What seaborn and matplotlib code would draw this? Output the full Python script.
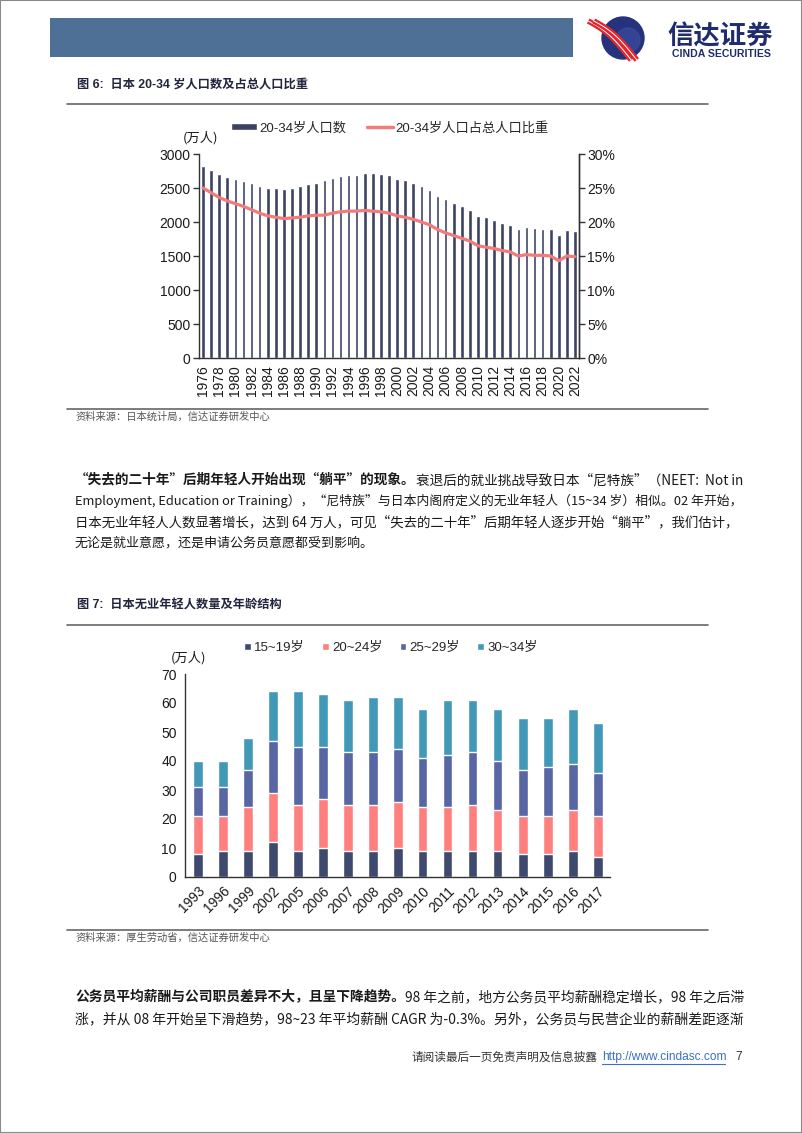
import numpy as np
import matplotlib
matplotlib.use("Agg")
import matplotlib.pyplot as plt
import seaborn as sns
from matplotlib.patches import Rectangle, Circle, Patch
from matplotlib.lines import Line2D
from matplotlib.ticker import FuncFormatter

# ---------- data: figure 6 ----------
years1 = [str(y) for y in range(1976, 2023)]
pop_20_34 = [2830, 2770, 2710, 2655, 2635, 2610, 2570, 2535, 2500, 2495,
             2485, 2505, 2530, 2564, 2569, 2613, 2647, 2677, 2696, 2696,
             2720, 2716, 2711, 2691, 2632, 2623, 2579, 2530, 2476, 2378,
             2338, 2285, 2236, 2182, 2089, 2069, 2025, 1991, 1961, 1902,
             1922, 1907, 1902, 1893, 1804, 1878, 1868]
share_20_34 = [25.0, 24.3, 23.6, 23.1, 22.7, 22.3, 21.8, 21.3, 20.9, 20.7,
               20.5, 20.6, 20.7, 20.9, 21.0, 21.0, 21.3, 21.5, 21.6, 21.6,
               21.7, 21.6, 21.5, 21.3, 20.9, 20.7, 20.4, 20.0, 19.6, 18.9,
               18.4, 18.0, 17.6, 17.2, 16.5, 16.3, 16.1, 15.8, 15.6, 15.0,
               15.2, 15.1, 15.1, 15.0, 14.3, 15.0, 14.9]

# ---------- data: figure 7 ----------
years2 = ['1993', '1996', '1999', '2002', '2005', '2006', '2007', '2008', '2009',
          '2010', '2011', '2012', '2013', '2014', '2015', '2016', '2017']
age_15_19 = [8, 9, 9, 12, 9, 10, 9, 9, 10, 9, 9, 9, 9, 8, 8, 9, 7]
age_20_24 = [13, 12, 15, 17, 16, 17, 16, 16, 16, 15, 15, 16, 14, 13, 13, 14, 14]
age_25_29 = [10, 10, 13, 18, 20, 18, 18, 18, 18, 17, 18, 18, 17, 16, 17, 16, 15]
age_30_34 = [9, 9, 11, 17, 19, 18, 18, 19, 18, 17, 19, 18, 18, 18, 17, 19, 17]
age_labels = ['15~19岁', '20~24岁', '25~29岁', '30~34岁']
age_colors = ['#3d4a6d', '#ff7f7f', '#5866a3', '#4199b7']

BAR_C = '#3b4262'
LINE_C = '#f27c7c'

sns.set_theme(style='white')
MIX = ['Liberation Sans', 'Noto Sans CJK SC', 'DejaVu Sans']
CJK = ['Noto Sans CJK SC', 'DejaVu Sans']
plt.rcParams['font.family'] = MIX
plt.rcParams['axes.unicode_minus'] = False

W, H = 802, 1133
fig = plt.figure(figsize=(W / 100, H / 100), dpi=100)
renderer = fig.canvas.get_renderer()


def rect(x0, y0, x1, y1):
    return [x0 / W, 1 - y1 / H, (x1 - x0) / W, (y1 - y0) / H]


def ftext(x, y, s, **kw):
    return fig.text(x / W, 1 - y / H, s, **kw)


def hline(x0, x1, y, color='#666666', lw=1.2):
    fig.add_artist(Line2D([x0 / W, x1 / W], [1 - y / H, 1 - y / H], color=color, lw=lw))


def text_w(s, size, bold):
    t = ftext(0, -100, s, fontsize=size, family=CJK, fontweight='bold' if bold else 'normal')
    w = t.get_window_extent(renderer).width
    t.remove()
    return w


def seg_w(txt, size, bold):
    return text_w(txt + '中', size, bold) - text_w('中', size, bold)


def para_line(segs, y, x0=75, x1=742, size=9.4, justify=True):
    # bold lead-in + normal text; full lines get a slight size tweak to fill the width
    if justify:
        natural = sum(seg_w(t, size, b) for t, b in segs)
        size = size * min(1.06, (x1 - x0) / natural)
    x = x0
    for txt, bold in segs:
        ftext(x, y, txt, fontsize=size, family=CJK, va='center', ha='left',
              fontweight='bold' if bold else 'normal', color='#1a1a1a')
        x += seg_w(txt, size, bold)


# ---------- page frame / header ----------
fig.add_artist(Rectangle((0, 0), 1, 1, transform=fig.transFigure, fill=False,
                         edgecolor='#8a8a8a', lw=1.5))
fig.add_artist(Rectangle((50 / W, 1 - 57 / H), 523 / W, 39 / H, transform=fig.transFigure,
                         facecolor='#4e7096', edgecolor='none'))

logo = fig.add_axes(rect(584, 14, 654, 62))
logo.set_xlim(0, 70)
logo.set_ylim(0, 48)
logo.set_aspect('equal')
logo.axis('off')
logo.add_patch(Circle((39, 24), 21, color='#26337c'))
logo.add_patch(Circle((44, 22), 12, color='#4152a6', alpha=0.55))
tt = np.linspace(0, 1, 30)
for off in (-2.8, 2.8):
    xs = 7 + 43 * tt + off
    ys = 41 - 39 * tt + 5 * np.sin(np.pi * tt)
    logo.plot(xs, ys, color='#e3262d', lw=4.0, solid_capstyle='butt')
    logo.plot(xs, ys, color='white', lw=0.7)

ftext(720, 37, '信达证券', fontsize=19, family=CJK, fontweight='bold',
      color='#1f2d6e', ha='center', va='center')
ftext(721, 54, 'CINDA SECURITIES', fontsize=7.6, family=MIX, fontweight='bold',
      color='#1f2d6e', ha='center', va='center')

# ---------- figure 6 ----------
ftext(77, 85, '图 6:  日本 20-34 岁人口数及占总人口比重', fontsize=8.8, family=MIX,
      fontweight='bold', color='#22253d', va='center')
hline(67, 708, 104)

ax1 = fig.add_axes(rect(199, 154, 579, 358))
sns.barplot(x=years1, y=pop_20_34, color=BAR_C, saturation=1, width=0.45,
            errorbar=None, ax=ax1)
ax1.set_xlim(-0.5, len(years1) - 0.5)
ax1.set_ylim(0, 3000)
ax1.set_yticks(range(0, 3001, 500))
ax1.set_xticks(range(len(years1)))
ax1.set_xticklabels([y if i % 2 == 0 else '' for i, y in enumerate(years1)],
                    rotation=90, fontsize=10)
ax1.set_xlabel('')
ax1.set_ylabel('')

ax1b = ax1.twinx()
sns.lineplot(x=np.arange(len(years1)), y=share_20_34, color=LINE_C, lw=2.3, ax=ax1b)
ax1b.set_ylim(0, 30)
ax1b.set_yticks(range(0, 31, 5))
ax1b.yaxis.set_major_formatter(FuncFormatter(lambda v, _: f'{v:.0f}%'))

for a in (ax1, ax1b):
    for s in a.spines.values():
        s.set_color('#333333')
        s.set_linewidth(1)
    a.spines['top'].set_visible(False)
    a.tick_params(axis='both', direction='out', length=4, width=1, color='#333333',
                  labelsize=10, labelcolor='#1a1a1a', pad=2)
ax1.tick_params(axis='x', length=3)
ax1b.spines['left'].set_visible(False)
ax1b.spines['bottom'].set_visible(False)

fig.legend(handles=[Patch(facecolor=BAR_C), Line2D([0], [0], color=LINE_C, lw=2.5)],
           labels=['20-34岁人口数', '20-34岁人口占总人口比重'], loc='center',
           bbox_to_anchor=(390 / W, 1 - 128 / H), ncol=2, frameon=False, fontsize=9.5,
           handlelength=1.95, handleheight=0.38, handletextpad=0.2, columnspacing=1.6)
ftext(201, 138, '(万人)', fontsize=9.5, family=CJK, ha='center', va='center', color='#1a1a1a')

hline(67, 708, 409)
ftext(75, 417, '资料来源：日本统计局，信达证券研发中心', fontsize=7.4, family=CJK,
      color='#555555', va='center', style='italic')

# ---------- paragraph 1 ----------
para_line([('“失去的二十年”后期年轻人开始出现“躺平”的现象。', True),
           ('衰退后的就业挑战导致日本“尼特族”（NEET:  Not in', False)], 480)
para_line([('Employment, Education or Training），“尼特族”与日本内阁府定义的无业年轻人（15~34 岁）相似。02 年开始，', False)], 501)
para_line([('日本无业年轻人人数显著增长，达到 64 万人，可见“失去的二十年”后期年轻人逐步开始“躺平”，我们估计，', False)], 522, x1=737)
para_line([('无论是就业意愿，还是申请公务员意愿都受到影响。', False)], 543, justify=False)

# ---------- figure 7 ----------
ftext(77, 606, '图 7:  日本无业年轻人数量及年龄结构', fontsize=8.8, family=MIX,
      fontweight='bold', color='#22253d', va='center')
hline(67, 708, 625)

ax2 = fig.add_axes(rect(185, 674, 610, 877))
stack = np.cumsum(np.array([age_15_19, age_20_24, age_25_29, age_30_34]), axis=0)
for level in range(3, -1, -1):
    sns.barplot(x=years2, y=stack[level], color=age_colors[level], saturation=1,
                width=0.4, errorbar=None, ax=ax2)
ax2.set_xlim(-0.5, len(years2) - 0.5)
ax2.set_ylim(0, 70)
ax2.set_yticks(range(0, 71, 10))
ax2.set_xticks(range(len(years2)))
ax2.set_xticklabels(years2, rotation=45, ha='right', rotation_mode='anchor')
ax2.set_xticks(np.arange(-0.5, len(years2)), minor=True)
ax2.set_xlabel('')
ax2.set_ylabel('')
for s in ax2.spines.values():
    s.set_color('#333333')
    s.set_linewidth(1)
ax2.spines['top'].set_visible(False)
ax2.spines['right'].set_visible(False)
ax2.tick_params(axis='both', which='both', direction='out', length=4, width=1,
                color='#333333', labelsize=10, labelcolor='#1a1a1a', pad=2)
ax2.tick_params(axis='x', which='major', length=0, pad=5)

fig.legend(handles=[Patch(facecolor=c) for c in age_colors], labels=age_labels,
           loc='center', bbox_to_anchor=(391 / W, 1 - 648 / H), ncol=4, frameon=False,
           fontsize=9.5, handlelength=0.5, handleheight=0.5, handletextpad=0.25,
           columnspacing=1.3)
ftext(188, 658, '(万人)', fontsize=9.5, family=CJK, ha='center', va='center', color='#1a1a1a')

hline(67, 708, 930)
ftext(75, 938, '资料来源：厚生劳动省，信达证券研发中心', fontsize=7.4, family=CJK,
      color='#555555', va='center', style='italic')

# ---------- paragraph 2 ----------
para_line([('公务员平均薪酬与公司职员差异不大，且呈下降趋势。', True),
           ('98 年之前，地方公务员平均薪酬稳定增长，98 年之后滞', False)], 997)
para_line([('涨，并从 08 年开始呈下滑趋势，98~23 年平均薪酬 CAGR 为-0.3%。另外，公务员与民营企业的薪酬差距逐渐', False)], 1019)

# ---------- footer ----------
ftext(598, 1057, '请阅读最后一页免责声明及信息披露', fontsize=8.4, family=CJK,
      color='#333333', ha='right', va='center')
ftext(602, 1057, 'http://www.cindasc.com', fontsize=8.6, family=MIX,
      color='#3a6fc4', ha='left', va='center')
hline(602, 725, 1064, color='#3a6fc4', lw=0.8)
ftext(739, 1057, '7', fontsize=8.6, family=MIX, color='#333333', ha='center', va='center')

fig.savefig('out.png', dpi=100)
